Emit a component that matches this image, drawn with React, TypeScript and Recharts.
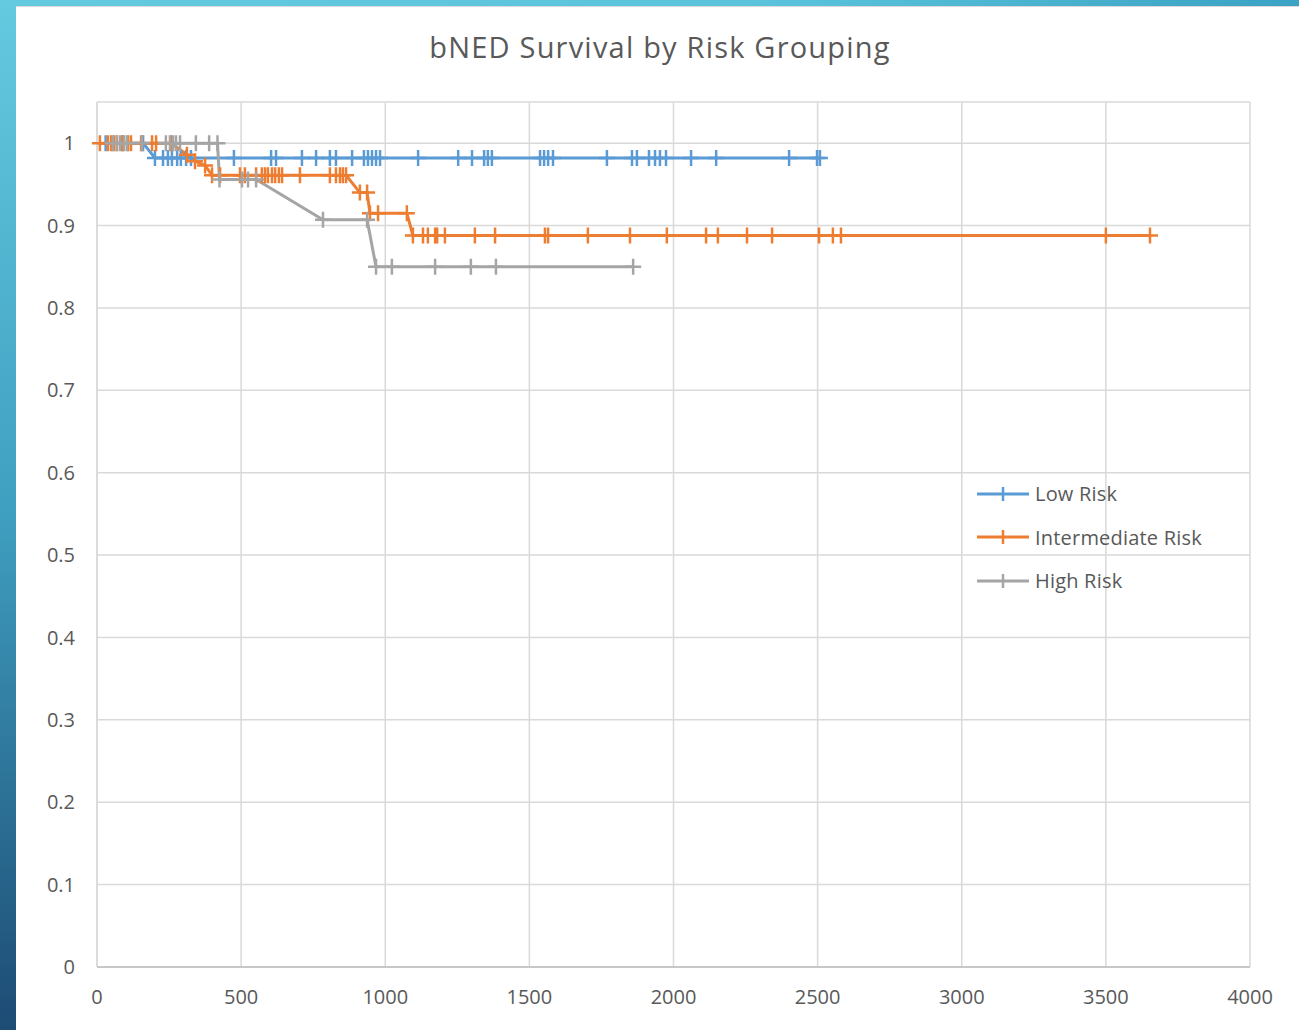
import React from "react";
import {
  LineChart,
  Line,
  XAxis,
  YAxis,
  CartesianGrid,
  Legend,
} from "recharts";

// days since treatment (x) and survival fraction (y)
const lowDays = [
  30, 90, 160, 201, 229, 246, 260, 278, 291, 309, 326, 475, 604, 621, 711, 760,
  808, 829, 885, 926, 940, 954, 968, 982, 1114, 1253, 1301, 1343, 1356, 1370,
  1537, 1551, 1565, 1582, 1769, 1856, 1873, 1915, 1936, 1953, 1974, 2061, 2148,
  2401, 2498, 2508,
];
const lowSurv = [
  1, 1, 1, 0.982, 0.982, 0.982, 0.982, 0.982, 0.982, 0.982, 0.982, 0.982, 0.982,
  0.982, 0.982, 0.982, 0.982, 0.982, 0.982, 0.982, 0.982, 0.982, 0.982, 0.982,
  0.982, 0.982, 0.982, 0.982, 0.982, 0.982, 0.982, 0.982, 0.982, 0.982, 0.982,
  0.982, 0.982, 0.982, 0.982, 0.982, 0.982, 0.982, 0.982, 0.982, 0.982, 0.982,
];

const intDays = [
  10, 38, 49, 59, 69, 87, 108, 118, 153, 191, 205, 257, 312, 340, 375, 399, 427,
  496, 513, 552, 572, 583, 593, 607, 618, 631, 642, 704, 808, 829, 843, 853, 864,
  912, 937, 947, 975, 1075, 1096, 1131, 1148, 1173, 1180, 1207, 1311, 1381, 1554,
  1565, 1703, 1849, 1977, 2113, 2154, 2255, 2342, 2505, 2553, 2581, 3500, 3653,
];
const intSurv = [
  1, 1, 1, 1, 1, 1, 1, 1, 1, 1, 1, 1, 0.986, 0.978, 0.973, 0.961, 0.961, 0.961,
  0.961, 0.961, 0.961, 0.961, 0.961, 0.961, 0.961, 0.961, 0.961, 0.961, 0.961,
  0.961, 0.961, 0.961, 0.961, 0.94, 0.94, 0.915, 0.915, 0.915, 0.888, 0.888,
  0.888, 0.888, 0.888, 0.888, 0.888, 0.888, 0.888, 0.888, 0.888, 0.888, 0.888,
  0.888, 0.888, 0.888, 0.888, 0.888, 0.888, 0.888, 0.888, 0.888,
];

const highDays = [
  55, 69, 80, 94, 104, 156, 239, 253, 264, 274, 288, 343, 389, 418, 425, 503,
  524, 552, 784, 937, 968, 1023, 1173, 1297, 1384, 1860,
];
const highSurv = [
  1, 1, 1, 1, 1, 1, 1, 1, 1, 1, 1, 1, 1, 1, 0.956, 0.956, 0.956, 0.956, 0.907,
  0.907, 0.85, 0.85, 0.85, 0.85, 0.85, 0.85,
];

const xTicks = [0, 500, 1000, 1500, 2000, 2500, 3000, 3500, 4000];
const yTicks = [0, 0.1, 0.2, 0.3, 0.4, 0.5, 0.6, 0.7, 0.8, 0.9, 1];

const series = [
  { name: "Low Risk", color: "#5b9bd5", days: lowDays, surv: lowSurv },
  { name: "Intermediate Risk", color: "#ed7d31", days: intDays, surv: intSurv },
  { name: "High Risk", color: "#a5a5a5", days: highDays, surv: highSurv },
];

const FONT = "'Open Sans', 'Noto Sans', sans-serif";
const TEXT = "#595959";

function plusDot(color: string) {
  return (props: any) => {
    const { cx, cy, index } = props;
    if (cx == null || cy == null) return <g key={index} />;
    return (
      <path
        key={index}
        d={`M${cx - 8},${cy}h16M${cx},${cy - 8}v16`}
        stroke={color}
        strokeWidth={2.5}
        fill="none"
      />
    );
  };
}

function LegendBox() {
  return (
    <div
      style={{
        fontFamily: FONT,
        fontSize: 20,
        letterSpacing: 0.2,
        color: TEXT,
      }}
    >
      {series.map((s) => (
        <div
          key={s.name}
          style={{ display: "flex", alignItems: "center", height: 43.5 }}
        >
          <svg width={56} height={20} style={{ marginRight: 4 }}>
            <line x1={2} y1={10} x2={54} y2={10} stroke={s.color} strokeWidth={3} />
            <path d="M28,3v14" stroke={s.color} strokeWidth={2.5} />
          </svg>
          <span>{s.name}</span>
        </div>
      ))}
    </div>
  );
}

export default function App() {
  return (
    <div
      style={{
        position: "absolute",
        left: 0,
        top: 0,
        width: 1299,
        height: 1030,
        overflow: "hidden",
        background: "#fff",
      }}
    >
      <div
        style={{
          position: "absolute",
          left: 0,
          top: 0,
          width: 16,
          height: 1030,
          background: "linear-gradient(to bottom, #64cae0, #3f9fc0 50%, #1d4b74)",
        }}
      />
      <div
        style={{
          position: "absolute",
          left: 0,
          top: 0,
          width: 1299,
          height: 6,
          background: "linear-gradient(to right, #64cae0, #5ac3db 60%, #3aa2c3)",
        }}
      />
      <div
        style={{
          position: "absolute",
          left: 16,
          top: 6,
          width: 1283,
          height: 1,
          background: "#d9d9d9",
        }}
      />
      <div
        style={{
          position: "absolute",
          left: 0,
          top: 27,
          width: 1320,
          textAlign: "center",
          fontFamily: FONT,
          fontSize: 29,
          letterSpacing: 1.2,
          color: TEXT,
        }}
      >
        bNED Survival by Risk Grouping
      </div>
      <div style={{ position: "absolute", left: 0, top: 0 }}>
        <LineChart
          width={1299}
          height={1030}
          margin={{ top: 102, right: 49, bottom: 23, left: 20 }}
        >
          <CartesianGrid stroke="#d9d9d9" strokeWidth={1.5} />
          <XAxis
            type="number"
            dataKey="x"
            domain={[0, 4000]}
            ticks={xTicks}
            height={40}
            tickSize={0}
            tickMargin={23}
            axisLine={{ stroke: "#bfbfbf", strokeWidth: 1.5 }}
            tick={{ fill: TEXT, fontSize: 20, fontFamily: FONT }}
            allowDuplicatedCategory={false}
          />
          <YAxis
            type="number"
            dataKey="y"
            domain={[0, 1.05]}
            ticks={yTicks}
            width={77}
            tickSize={0}
            tickMargin={22}
            axisLine={{ stroke: "#d9d9d9", strokeWidth: 1.5 }}
            tick={{ fill: TEXT, fontSize: 20, fontFamily: FONT }}
            tickFormatter={(v: number) => String(v)}
          />
          <Legend
            layout="vertical"
            align="center"
            verticalAlign="middle"
            content={() => <LegendBox />}
            wrapperStyle={{ position: "absolute", left: 975, top: 472, width: 270 }}
          />
          {series.map((s) => (
            <Line
              key={s.name}
              name={s.name}
              data={s.days.map((d, i) => ({ x: d, y: s.surv[i] }))}
              dataKey="y"
              type="linear"
              stroke={s.color}
              strokeWidth={3}
              dot={plusDot(s.color)}
              activeDot={false}
              isAnimationActive={false}
            />
          ))}
        </LineChart>
      </div>
    </div>
  );
}
